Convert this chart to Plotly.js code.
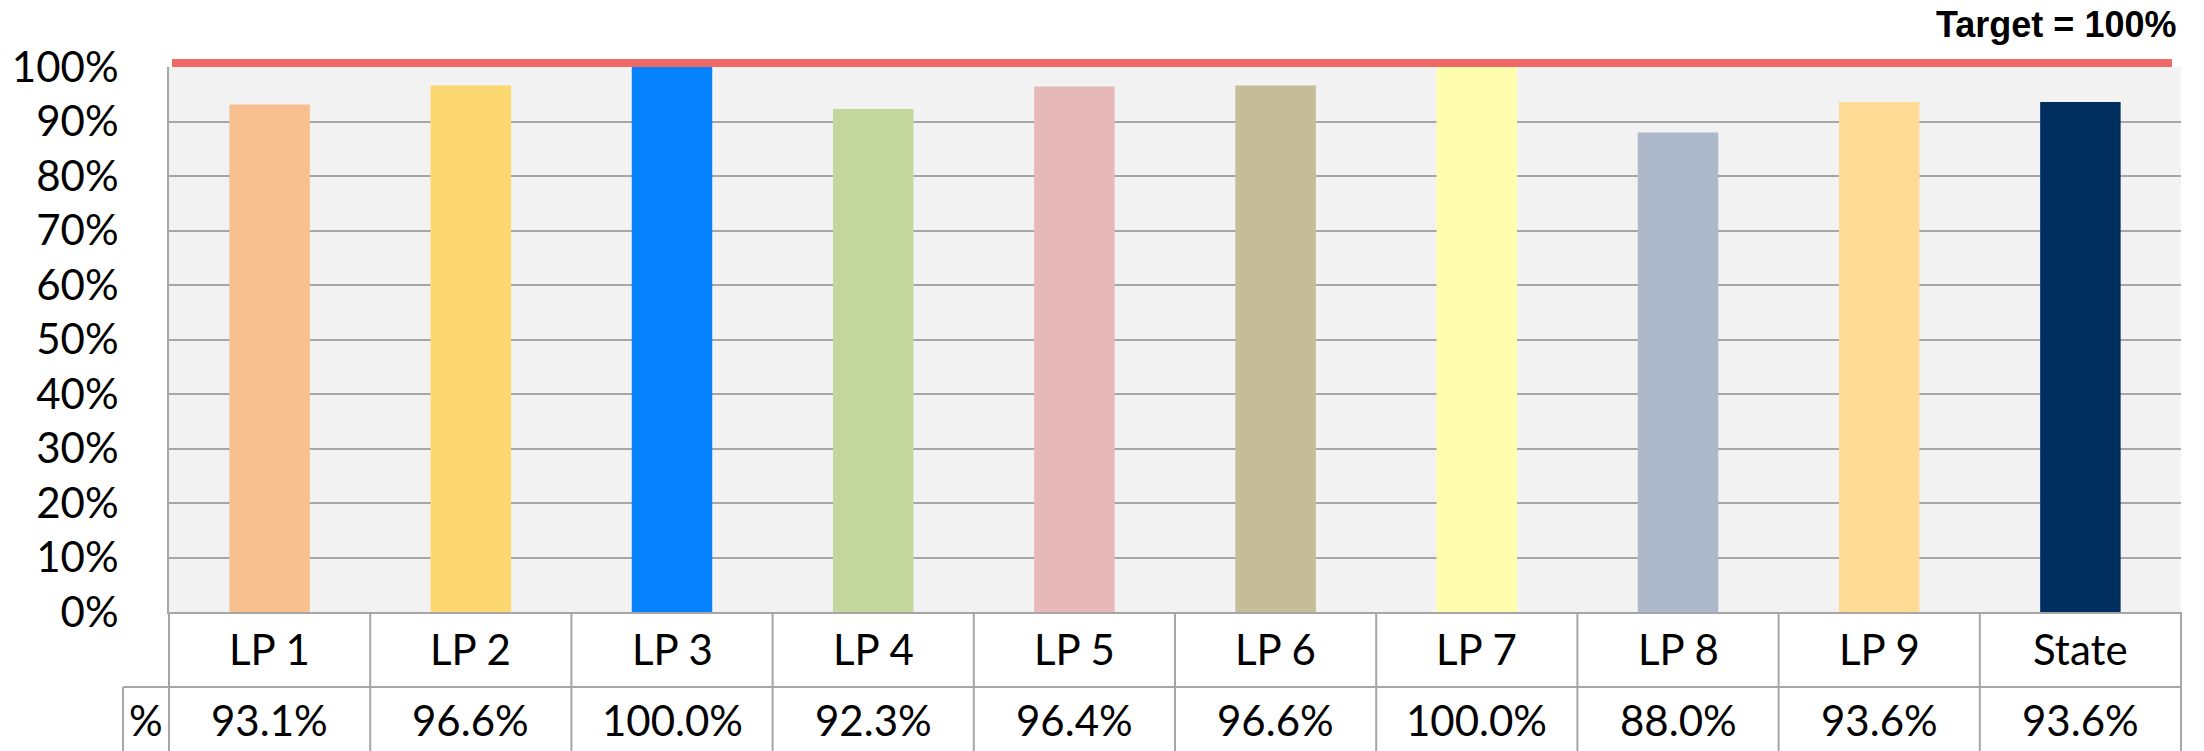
<!DOCTYPE html>
<html>
<head>
<meta charset="utf-8">
<script src="https://cdn.plot.ly/plotly-3.0.1.min.js"></script>
<style>
  html, body { margin: 0; padding: 0; background: #fff; }
  #chart { width: 2204px; height: 751px; }
</style>
</head>
<body>
<div id="chart"></div>
<script>
// categories and values
const categories = ['LP 1', 'LP 2', 'LP 3', 'LP 4', 'LP 5', 'LP 6', 'LP 7', 'LP 8', 'LP 9', 'State'];
const values = [0.931, 0.966, 1.000, 0.923, 0.964, 0.966, 1.000, 0.880, 0.936, 0.936];
const barColors = ['#F8C08F', '#FDD770', '#0782FE', '#C4D79C', '#E6B8B8',
                   '#C4BD97', '#FEFEAE', '#ADB9CA', '#FEDC96', '#002F5F'];
const TARGET = 1.0;
const targetLabel = 'Target = 100%';
const rowLabel = '%';
const yRange = [0, 1];

const FONT = 'Lato, "Noto Sans", sans-serif';
const GRID = '#A6A6A6';
const n = categories.length;

// table under the plot: pixel offsets below the 0% line
const ROW1 = 75, ROW2 = 145, LABEL_W = 46;

const shapes = [];
// target line, sitting just on top of the target level (paper ref so it is not clipped)
shapes.push({
  type: 'rect', xref: 'paper', x0: 0.0015, x1: 0.9955,
  yref: 'paper', ysizemode: 'pixel', yanchor: (TARGET - yRange[0]) / (yRange[1] - yRange[0]),
  y0: 0, y1: 8,
  fillcolor: '#EE6966', line: {width: 0}, layer: 'above'
});
// horizontal table lines
shapes.push({type: 'line', xref: 'paper', x0: 0, x1: 1, yref: 'paper', ysizemode: 'pixel',
  yanchor: 0, y0: -ROW1, y1: -ROW1, line: {color: GRID, width: 2}});
shapes.push({type: 'line', xref: 'paper', xsizemode: 'pixel', xanchor: 0, x0: -LABEL_W, x1: 0,
  yref: 'paper', ysizemode: 'pixel', yanchor: 0, y0: -ROW1, y1: -ROW1, line: {color: GRID, width: 2}});
shapes.push({type: 'line', xref: 'paper', xsizemode: 'pixel', xanchor: 0, x0: -LABEL_W, x1: -LABEL_W,
  yref: 'paper', ysizemode: 'pixel', yanchor: 0, y0: -ROW1, y1: -ROW2, line: {color: GRID, width: 2}});
// vertical table lines
for (let i = 0; i <= n; i++) {
  shapes.push({type: 'line', xref: 'paper', x0: i / n, x1: i / n, yref: 'paper', ysizemode: 'pixel',
    yanchor: 0, y0: 0, y1: -ROW2, line: {color: GRID, width: 2}});
}

const annotations = [];
categories.forEach((c, i) => {
  annotations.push({x: c, xref: 'x', y: 0, yref: 'paper', yanchor: 'middle', yshift: -37,
    text: c, showarrow: false, font: {family: FONT, size: 42, color: '#000'}});
  annotations.push({x: c, xref: 'x', y: 0, yref: 'paper', yanchor: 'middle', yshift: -108,
    text: (values[i] * 100).toFixed(1) + '%', showarrow: false,
    font: {family: FONT, size: 42, color: '#000'}});
});
annotations.push({x: 0, xref: 'paper', xanchor: 'center', xshift: -LABEL_W / 2, y: 0, yref: 'paper',
  yanchor: 'middle', yshift: -108, text: rowLabel, showarrow: false,
  font: {family: FONT, size: 42, color: '#000'}});
annotations.push({x: 1, xref: 'paper', xanchor: 'right', xshift: -3, y: 1, yref: 'paper',
  yanchor: 'middle', yshift: 43, text: '<b>' + targetLabel + '</b>', showarrow: false,
  font: {family: '"Liberation Sans", Arial, sans-serif', size: 36, color: '#000'}});

const trace = {
  type: 'bar', x: categories, y: values, width: 0.4,
  marker: {color: barColors, line: {width: 0}},
  hoverinfo: 'x+y'
};

const layout = {
  width: 2204, height: 751,
  margin: {l: 169, r: 23, t: 67, b: 139, pad: 0},
  paper_bgcolor: '#FFFFFF', plot_bgcolor: '#F2F2F2',
  showlegend: false,
  xaxis: {
    type: 'category', range: [-0.5, n - 0.5], showticklabels: false, ticks: '',
    showgrid: false, showline: true, linecolor: GRID, linewidth: 2, zeroline: false, fixedrange: true
  },
  yaxis: {
    range: yRange, dtick: 0.1, tick0: 0, tickformat: '.0%', ticks: '',
    ticklabelstandoff: 40,
    tickfont: {family: FONT, size: 42, color: '#000'},
    showgrid: true, gridcolor: GRID, gridwidth: 2,
    showline: true, linecolor: GRID, linewidth: 2, zeroline: false, fixedrange: true
  },
  shapes: shapes,
  annotations: annotations
};

Plotly.newPlot('chart', [trace], layout, {displayModeBar: false, staticPlot: true});
</script>
</body>
</html>
